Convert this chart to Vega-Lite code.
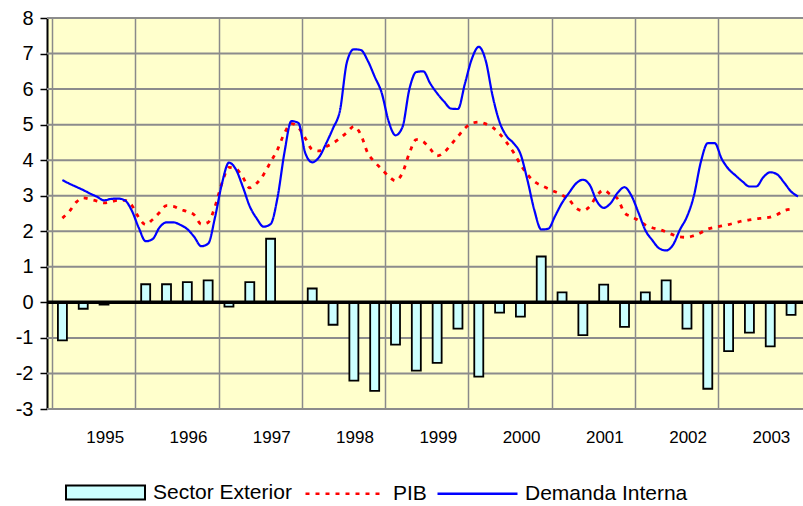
{
  "$schema": "https://vega.github.io/schema/vega-lite/v6.json",
  "width": 756,
  "height": 391,
  "autosize": {"type": "none"},
  "padding": {"left": 47, "top": 18, "right": 0, "bottom": 97},
  "background": "white",
  "config": {"view": {"fill": "#FFFFCC", "stroke": null}, "font": "Liberation Sans"},
  "datasets": {
    "rejilla": [
      {"g": -3}, {"g": -2}, {"g": -1}, {"g": 1}, {"g": 2},
      {"g": 3}, {"g": 4}, {"g": 5}, {"g": 6}, {"g": 7}, {"g": 8}
    ],
    "barras": [
      {"m": 1, "v": -1.07}, {"m": 4, "v": -0.18}, {"m": 7, "v": -0.06}, {"m": 10, "v": 0},
      {"m": 13, "v": 0.51}, {"m": 16, "v": 0.51}, {"m": 19, "v": 0.57}, {"m": 22, "v": 0.62},
      {"m": 25, "v": -0.12}, {"m": 28, "v": 0.57}, {"m": 31, "v": 1.79}, {"m": 34, "v": 0},
      {"m": 37, "v": 0.39}, {"m": 40, "v": -0.63}, {"m": 43, "v": -2.2}, {"m": 46, "v": -2.49},
      {"m": 49, "v": -1.19}, {"m": 52, "v": -1.92}, {"m": 55, "v": -1.7}, {"m": 58, "v": -0.74},
      {"m": 61, "v": -2.09}, {"m": 64, "v": -0.29}, {"m": 67, "v": -0.4}, {"m": 70, "v": 1.29},
      {"m": 73, "v": 0.28}, {"m": 76, "v": -0.92}, {"m": 79, "v": 0.5}, {"m": 82, "v": -0.69},
      {"m": 85, "v": 0.28}, {"m": 88, "v": 0.62}, {"m": 91, "v": -0.74}, {"m": 94, "v": -2.43},
      {"m": 97, "v": -1.37}, {"m": 100, "v": -0.85}, {"m": 103, "v": -1.24}, {"m": 106, "v": -0.35}
    ],
    "lineas": [
      {"m": 1, "PIB": 2.37, "DI": 3.44}, {"m": 2, "PIB": 2.56, "DI": 3.34}, {"m": 3, "PIB": 2.82, "DI": 3.25},
      {"m": 4, "PIB": 2.94, "DI": 3.16}, {"m": 5, "PIB": 2.9, "DI": 3.06}, {"m": 6, "PIB": 2.85, "DI": 2.97},
      {"m": 7, "PIB": 2.8, "DI": 2.87}, {"m": 8, "PIB": 2.83, "DI": 2.91}, {"m": 9, "PIB": 2.87, "DI": 2.92},
      {"m": 10, "PIB": 2.87, "DI": 2.87}, {"m": 11, "PIB": 2.73, "DI": 2.58}, {"m": 12, "PIB": 2.39, "DI": 2.1},
      {"m": 13, "PIB": 2.19, "DI": 1.72}, {"m": 14, "PIB": 2.33, "DI": 1.78}, {"m": 15, "PIB": 2.53, "DI": 2.11},
      {"m": 16, "PIB": 2.72, "DI": 2.25}, {"m": 17, "PIB": 2.7, "DI": 2.25}, {"m": 18, "PIB": 2.62, "DI": 2.18},
      {"m": 19, "PIB": 2.55, "DI": 2.06}, {"m": 20, "PIB": 2.46, "DI": 1.84}, {"m": 21, "PIB": 2.2, "DI": 1.58},
      {"m": 22, "PIB": 2.25, "DI": 1.65}, {"m": 23, "PIB": 2.7, "DI": 2.4}, {"m": 24, "PIB": 3.36, "DI": 3.35},
      {"m": 25, "PIB": 3.8, "DI": 3.93}, {"m": 26, "PIB": 3.76, "DI": 3.74}, {"m": 27, "PIB": 3.52, "DI": 3.25},
      {"m": 28, "PIB": 3.22, "DI": 2.7}, {"m": 29, "PIB": 3.35, "DI": 2.36}, {"m": 30, "PIB": 3.6, "DI": 2.13},
      {"m": 31, "PIB": 3.95, "DI": 2.2}, {"m": 32, "PIB": 4.3, "DI": 2.95}, {"m": 33, "PIB": 4.76, "DI": 4.22},
      {"m": 34, "PIB": 5.03, "DI": 5.1}, {"m": 35, "PIB": 4.92, "DI": 5.05}, {"m": 36, "PIB": 4.62, "DI": 4.2},
      {"m": 37, "PIB": 4.3, "DI": 3.94}, {"m": 38, "PIB": 4.26, "DI": 4.09}, {"m": 39, "PIB": 4.38, "DI": 4.47},
      {"m": 40, "PIB": 4.48, "DI": 4.9}, {"m": 41, "PIB": 4.62, "DI": 5.4}, {"m": 42, "PIB": 4.78, "DI": 6.76},
      {"m": 43, "PIB": 4.95, "DI": 7.12}, {"m": 44, "PIB": 4.72, "DI": 7.1}, {"m": 45, "PIB": 4.2, "DI": 6.8},
      {"m": 46, "PIB": 3.95, "DI": 6.35}, {"m": 47, "PIB": 3.75, "DI": 5.9}, {"m": 48, "PIB": 3.55, "DI": 5.1},
      {"m": 49, "PIB": 3.42, "DI": 4.7}, {"m": 50, "PIB": 3.64, "DI": 4.93}, {"m": 51, "PIB": 4.2, "DI": 6.0},
      {"m": 52, "PIB": 4.58, "DI": 6.48}, {"m": 53, "PIB": 4.52, "DI": 6.5}, {"m": 54, "PIB": 4.32, "DI": 6.16},
      {"m": 55, "PIB": 4.12, "DI": 5.88}, {"m": 56, "PIB": 4.22, "DI": 5.65}, {"m": 57, "PIB": 4.44, "DI": 5.45},
      {"m": 58, "PIB": 4.67, "DI": 5.44}, {"m": 59, "PIB": 4.9, "DI": 6.15}, {"m": 60, "PIB": 5.04, "DI": 6.85},
      {"m": 61, "PIB": 5.07, "DI": 7.19}, {"m": 62, "PIB": 5.02, "DI": 6.8}, {"m": 63, "PIB": 4.92, "DI": 5.8},
      {"m": 64, "PIB": 4.74, "DI": 5.07}, {"m": 65, "PIB": 4.5, "DI": 4.68}, {"m": 66, "PIB": 4.22, "DI": 4.48},
      {"m": 67, "PIB": 3.88, "DI": 4.18}, {"m": 68, "PIB": 3.6, "DI": 3.45}, {"m": 69, "PIB": 3.4, "DI": 2.6},
      {"m": 70, "PIB": 3.29, "DI": 2.05}, {"m": 71, "PIB": 3.2, "DI": 2.07}, {"m": 72, "PIB": 3.11, "DI": 2.43},
      {"m": 73, "PIB": 3.02, "DI": 2.8}, {"m": 74, "PIB": 2.89, "DI": 3.08}, {"m": 75, "PIB": 2.66, "DI": 3.34},
      {"m": 76, "PIB": 2.58, "DI": 3.45}, {"m": 77, "PIB": 2.7, "DI": 3.3}, {"m": 78, "PIB": 3.0, "DI": 2.85},
      {"m": 79, "PIB": 3.16, "DI": 2.66}, {"m": 80, "PIB": 3.03, "DI": 2.79}, {"m": 81, "PIB": 2.92, "DI": 3.08},
      {"m": 82, "PIB": 2.52, "DI": 3.24}, {"m": 83, "PIB": 2.41, "DI": 3.0}, {"m": 84, "PIB": 2.31, "DI": 2.53},
      {"m": 85, "PIB": 2.18, "DI": 2.03}, {"m": 86, "PIB": 2.1, "DI": 1.75}, {"m": 87, "PIB": 2.05, "DI": 1.52},
      {"m": 88, "PIB": 1.98, "DI": 1.46}, {"m": 89, "PIB": 1.9, "DI": 1.62}, {"m": 90, "PIB": 1.84, "DI": 2.05},
      {"m": 91, "PIB": 1.83, "DI": 2.41}, {"m": 92, "PIB": 1.88, "DI": 3.0}, {"m": 93, "PIB": 1.96, "DI": 3.95},
      {"m": 94, "PIB": 2.06, "DI": 4.48}, {"m": 95, "PIB": 2.11, "DI": 4.48}, {"m": 96, "PIB": 2.15, "DI": 4.04},
      {"m": 97, "PIB": 2.19, "DI": 3.75}, {"m": 98, "PIB": 2.24, "DI": 3.57}, {"m": 99, "PIB": 2.29, "DI": 3.4},
      {"m": 100, "PIB": 2.32, "DI": 3.26}, {"m": 101, "PIB": 2.35, "DI": 3.26}, {"m": 102, "PIB": 2.37, "DI": 3.52},
      {"m": 103, "PIB": 2.4, "DI": 3.66}, {"m": 104, "PIB": 2.47, "DI": 3.6}, {"m": 105, "PIB": 2.58, "DI": 3.37},
      {"m": 106, "PIB": 2.62, "DI": 3.12}, {"m": 107, "PIB": null, "DI": 2.98}
    ]
  },
  "layer": [
    {
      "data": {"name": "rejilla"},
      "mark": {"type": "rule", "color": "#8c8c8c", "strokeWidth": 2},
      "encoding": {
        "y": {
          "field": "g", "type": "quantitative",
          "scale": {"domain": [-3, 8], "nice": false, "zero": false},
          "axis": {
            "title": null,
            "values": [-3, -2, -1, 0, 1, 2, 3, 4, 5, 6, 7, 8],
            "labelExpr": "toString(datum.value)",
            "grid": false,
            "domainColor": "black", "domainWidth": 2,
            "tickColor": "black", "tickSize": 7, "tickWidth": 1.5,
            "labelFontSize": 20, "labelColor": "black", "labelPadding": 7,
            "labelOverlap": false, "labelFlush": false
          }
        }
      }
    },
    {
      "data": {"name": "barras"},
      "mark": {"type": "bar", "size": 9, "stroke": "black", "strokeWidth": 1.8, "clip": true},
      "encoding": {
        "x": {
          "field": "m", "type": "quantitative",
          "scale": {"domain": [-0.5, 107], "nice": false, "zero": false},
          "axis": {
            "title": null,
            "values": [-0.5, 11.5, 23.5, 35.5, 47.5, 59.5, 71.5, 83.5, 95.5],
            "grid": true, "gridColor": "#8a8a8a", "gridWidth": 1.5,
            "domain": false, "ticks": false,
            "labelExpr": "toString(1995 + round((datum.value + 0.5) / 12))",
            "labelOffset": 52.7, "labelAlign": "center", "labelFontSize": 17, "labelColor": "black",
            "labelPadding": 20, "labelFlush": false, "labelOverlap": false
          }
        },
        "y": {
          "field": "v", "type": "quantitative",
          "scale": {"domain": [-3, 8], "nice": false, "zero": false},
          "axis": {
            "title": null,
            "values": [-3, -2, -1, 0, 1, 2, 3, 4, 5, 6, 7, 8],
            "labelExpr": "toString(datum.value)",
            "grid": false,
            "domainColor": "black", "domainWidth": 2,
            "tickColor": "black", "tickSize": 7, "tickWidth": 1.5,
            "labelFontSize": 20, "labelColor": "black", "labelPadding": 7,
            "labelOverlap": false, "labelFlush": false
          }
        },
        "fill": {
          "datum": "Sector Exterior", "type": "nominal",
          "scale": {"domain": ["Sector Exterior"], "range": ["#CCFFFF"]},
          "legend": {
            "orient": "none", "legendX": 18, "legendY": 434, "title": null,
            "symbolType": "M-1,-0.18H1V0.18H-1Z", "symbolSize": 6241,
            "symbolStrokeColor": "black", "symbolStrokeWidth": 2,
            "labelFontSize": 21, "labelOffset": 7, "labelColor": "black", "labelLimit": 300
          }
        }
      }
    },
    {
      "data": {"values": [{"v": 0}]},
      "mark": {"type": "rule", "color": "black", "strokeWidth": 3.5},
      "encoding": {
        "y": {
          "field": "v", "type": "quantitative",
          "scale": {"domain": [-3, 8], "nice": false, "zero": false},
          "axis": {
            "title": null,
            "values": [-3, -2, -1, 0, 1, 2, 3, 4, 5, 6, 7, 8],
            "labelExpr": "toString(datum.value)",
            "grid": false,
            "domainColor": "black", "domainWidth": 2,
            "tickColor": "black", "tickSize": 7, "tickWidth": 1.5,
            "labelFontSize": 20, "labelColor": "black", "labelPadding": 7,
            "labelOverlap": false, "labelFlush": false
          }
        }
      }
    },
    {
      "data": {"name": "lineas"},
      "mark": {"type": "line", "interpolate": "monotone", "strokeWidth": 2.8, "clip": true},
      "encoding": {
        "x": {
          "field": "m", "type": "quantitative",
          "scale": {"domain": [-0.5, 107], "nice": false, "zero": false},
          "axis": {
            "title": null,
            "values": [-0.5, 11.5, 23.5, 35.5, 47.5, 59.5, 71.5, 83.5, 95.5],
            "grid": true, "gridColor": "#8a8a8a", "gridWidth": 1.5,
            "domain": false, "ticks": false,
            "labelExpr": "toString(1995 + round((datum.value + 0.5) / 12))",
            "labelOffset": 52.7, "labelAlign": "center", "labelFontSize": 17, "labelColor": "black",
            "labelPadding": 20, "labelFlush": false, "labelOverlap": false
          }
        },
        "y": {
          "field": "PIB", "type": "quantitative",
          "scale": {"domain": [-3, 8], "nice": false, "zero": false},
          "axis": {
            "title": null,
            "values": [-3, -2, -1, 0, 1, 2, 3, 4, 5, 6, 7, 8],
            "labelExpr": "toString(datum.value)",
            "grid": false,
            "domainColor": "black", "domainWidth": 2,
            "tickColor": "black", "tickSize": 7, "tickWidth": 1.5,
            "labelFontSize": 20, "labelColor": "black", "labelPadding": 7,
            "labelOverlap": false, "labelFlush": false
          }
        },
        "stroke": {
          "datum": "PIB", "type": "nominal",
          "scale": {"domain": ["PIB", "Demanda Interna"], "range": ["#FF0000", "#0000FF"]},
          "legend": {
            "orient": "none", "legendX": 257, "legendY": 434, "title": null, "direction": "horizontal",
            "symbolType": "stroke", "symbolSize": 6400, "symbolStrokeWidth": 2.5,
            "labelFontSize": 21, "labelOffset": 6, "labelColor": "black", "columnPadding": 5, "labelLimit": 300
          }
        },
        "strokeDash": {
          "datum": "PIB", "type": "nominal",
          "scale": {"domain": ["PIB", "Demanda Interna"], "range": [[4, 6], [1, 0]]},
          "legend": {
            "orient": "none", "legendX": 257, "legendY": 434, "title": null, "direction": "horizontal",
            "symbolType": "stroke", "symbolSize": 6400, "symbolStrokeWidth": 2.5,
            "labelFontSize": 21, "labelOffset": 6, "labelColor": "black", "columnPadding": 5, "labelLimit": 300
          }
        }
      }
    },
    {
      "data": {"name": "lineas"},
      "mark": {"type": "line", "interpolate": "monotone", "strokeWidth": 2.2, "clip": true},
      "encoding": {
        "x": {
          "field": "m", "type": "quantitative",
          "scale": {"domain": [-0.5, 107], "nice": false, "zero": false},
          "axis": {
            "title": null,
            "values": [-0.5, 11.5, 23.5, 35.5, 47.5, 59.5, 71.5, 83.5, 95.5],
            "grid": true, "gridColor": "#8a8a8a", "gridWidth": 1.5,
            "domain": false, "ticks": false,
            "labelExpr": "toString(1995 + round((datum.value + 0.5) / 12))",
            "labelOffset": 52.7, "labelAlign": "center", "labelFontSize": 17, "labelColor": "black",
            "labelPadding": 20, "labelFlush": false, "labelOverlap": false
          }
        },
        "y": {
          "field": "DI", "type": "quantitative",
          "scale": {"domain": [-3, 8], "nice": false, "zero": false},
          "axis": {
            "title": null,
            "values": [-3, -2, -1, 0, 1, 2, 3, 4, 5, 6, 7, 8],
            "labelExpr": "toString(datum.value)",
            "grid": false,
            "domainColor": "black", "domainWidth": 2,
            "tickColor": "black", "tickSize": 7, "tickWidth": 1.5,
            "labelFontSize": 20, "labelColor": "black", "labelPadding": 7,
            "labelOverlap": false, "labelFlush": false
          }
        },
        "stroke": {"datum": "Demanda Interna", "type": "nominal"},
        "strokeDash": {"datum": "Demanda Interna", "type": "nominal"}
      }
    }
  ]
}
